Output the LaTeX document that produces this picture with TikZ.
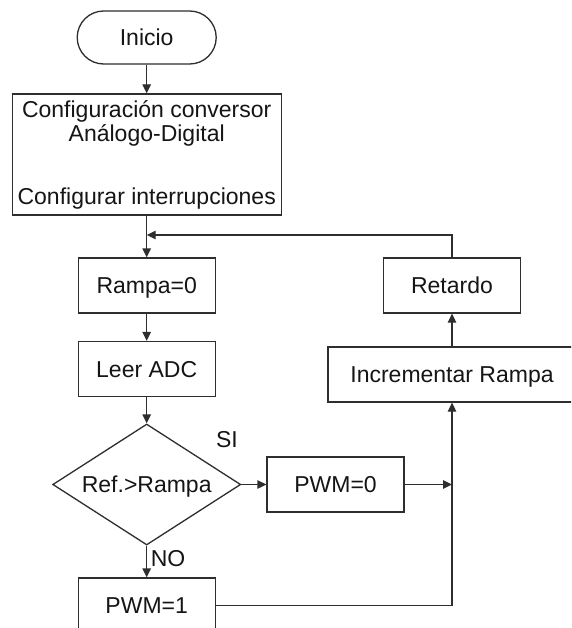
\documentclass[tikz,border=0pt]{standalone}
\usepackage{fontspec}
\setmainfont{Liberation Sans}
\usetikzlibrary{arrows.meta,shapes.geometric,shapes.misc}
\definecolor{linecol}{HTML}{2E2E2E}
\definecolor{txtcol}{HTML}{151515}
\tikzset{
  base/.style={draw=linecol, line width=1.3pt, text=txtcol, inner sep=0pt,
    font=\fontsize{23}{24}\selectfont},
  onerow/.style={text height=16.5pt, text depth=0pt},
  procbox/.style={base, onerow, rectangle, minimum width=137pt, minimum height=55pt},
  termbox/.style={base, onerow, rounded rectangle, minimum width=139pt, minimum height=53pt},
  decbox/.style={base, onerow, diamond, aspect=1.55, minimum width=188pt, minimum height=121pt},
  tag/.style={text=txtcol, inner sep=0pt, onerow, font=\fontsize{23}{24}\selectfont},
  flow/.style={draw=linecol, line width=1.3pt, -{Triangle[length=9pt,width=8.5pt]}},
  wire/.style={draw=linecol, line width=1.3pt}
}
\begin{document}
\begin{tikzpicture}[x=1pt,y=-1pt]
  \useasboundingbox (0,0) rectangle (571,628);
  \fill[white] (0,0) rectangle (571,628);
  \clip (0,0) rectangle (571,628);

  % main column
  \node[termbox] (inicio) at (146.7,37.5) {Inicio};
  \node[base, rectangle, align=center, minimum width=269pt, minimum height=121pt]
    (config) at (146.7,154.5)
    {Configuración conversor\\Análogo-Digital\\[39pt]Configurar interrupciones};
  \node[procbox] (rampa) at (146.7,285.5) {Rampa=0};
  \node[procbox] (leer) at (146.7,369) {Leer ADC};
  \node[decbox] (dec) at (146.7,484.5) {Ref.>Rampa};
  \node[procbox] (pwm1) at (146.7,605.5) {PWM=1};

  % right-hand branch
  \node[procbox] (pwm0) at (335.5,484.5) {PWM=0};
  \node[procbox, minimum width=248pt] (incr) at (452,374.5) {Incrementar Rampa};
  \node[procbox] (retardo) at (452,285.5) {Retardo};

  % branch labels
  \node[tag] (si) at (227,439) {SI};
  \node[tag] (no) at (168,558) {NO};

  % junction points
  \coordinate (loopin) at (146.7,235);
  \coordinate (merge) at (452,484.5);

  % connectors
  \draw[flow] (inicio.south) -- (config.north);
  \draw[flow] (config.south) -- (rampa.north);
  \draw[flow] (retardo.north) |- (loopin);
  \draw[flow] (rampa.south) -- (leer.north);
  \draw[flow] (leer.south) -- (dec.north);
  \draw[flow] (dec.south) -- (pwm1.north);
  \draw[flow] (dec.east) -- (pwm0.west);
  \draw[flow] (pwm0.east) -- (merge);
  \draw[flow] (pwm1.east) -| (incr.south);
  \draw[flow] (incr.north) -- (retardo.south);
\end{tikzpicture}
\end{document}
